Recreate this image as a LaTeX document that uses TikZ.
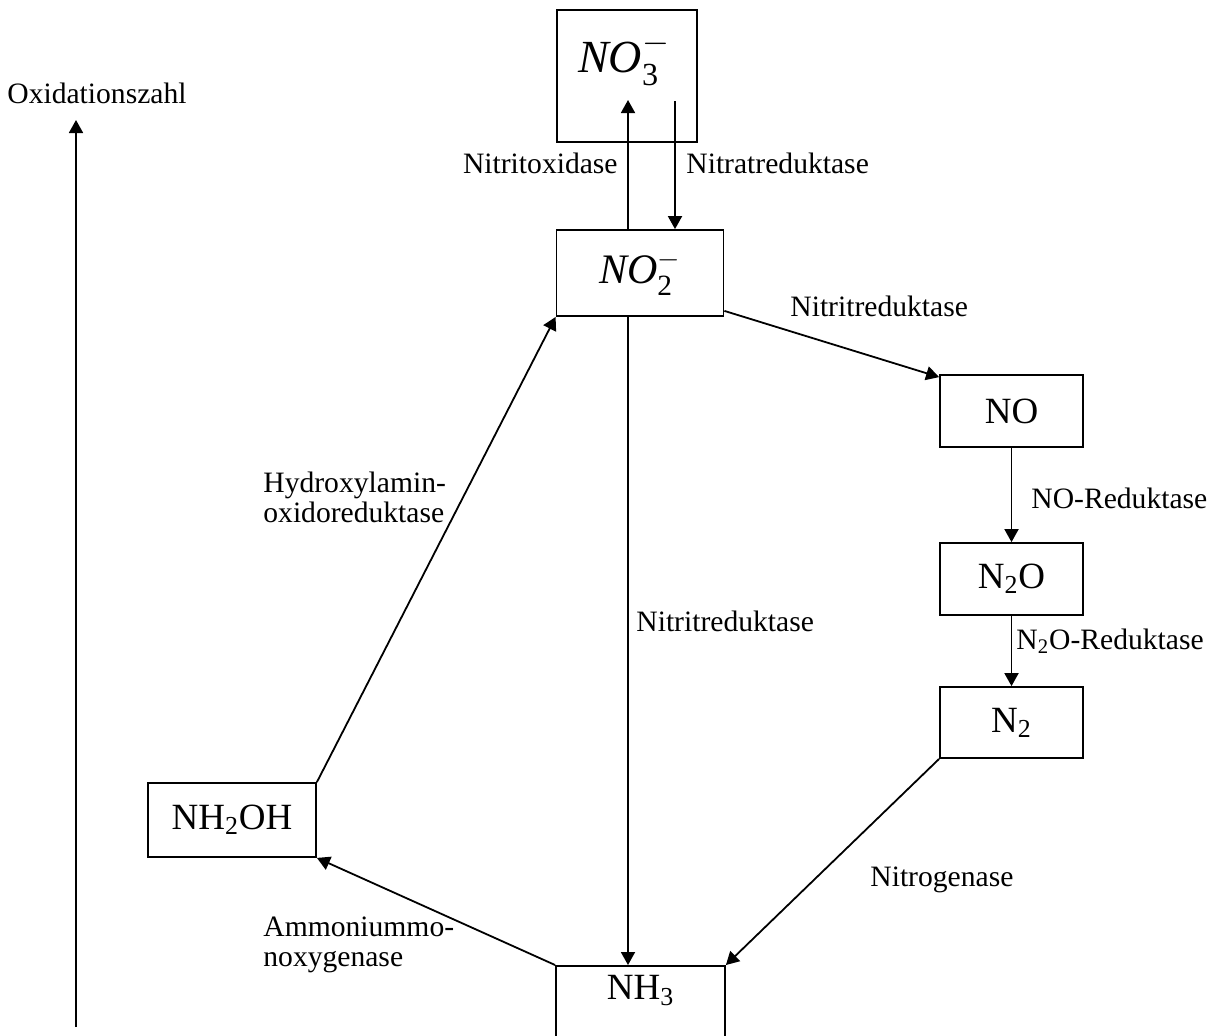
\documentclass[tikz,border=0pt]{standalone}
\usepackage{amsmath}
\usepackage{fontspec}
\setmainfont{Liberation Serif}
\usetikzlibrary{arrows.meta}
\tikzset{
  box/.style={draw, line width=0.9pt, inner sep=0pt, font=\fontsize{18.5}{20}\selectfont},
  lbl/.style={inner sep=0pt, align=left, font=\fontsize{14.8}{15}\selectfont},
  arr/.style={draw, line width=0.9pt, -{Triangle[length=6.5pt,width=7pt]}}
}
\begin{document}
\begin{tikzpicture}[x=0.5pt,y=-0.5pt]
\useasboundingbox (0,0) rectangle (1208,1035);

%Shape: Rectangles
\node (no3) at (627,76) [box, minimum width=70pt, minimum height=66pt] {};
\node (no3t) at (624,59) [inner sep=0pt, font=\fontsize{23}{24}\selectfont] {$\mathit{NO}_{\text{3}}^{-}$};
\node (no2) at (640,273) [box, minimum width=83.5pt, minimum height=43pt, font=\fontsize{21}{24}\selectfont] {$\mathit{NO}_{\text{2}}^{-}$};
\node (no) at (1011.5,411) [box, minimum width=71.5pt, minimum height=36pt] {NO};
\node (n2o) at (1011.5,579) [box, minimum width=71.5pt, minimum height=36pt] {N\textsubscript{2}O};
\node (n2) at (1011.5,722.5) [box, minimum width=71.5pt, minimum height=35.5pt] {N\textsubscript{2}};
\node (nh2oh) at (232,820) [box, minimum width=84pt, minimum height=37pt] {NH\textsubscript{2}OH};
\node (nh3) at (640.5,965) [box, anchor=north, minimum width=84.5pt, text height=17pt, text depth=30pt] {NH\textsubscript{3}};

%Points
\coordinate (up) at (628,100);
\coordinate (down) at (675,101);
\coordinate (ybot) at (76,1027);
\coordinate (ytop) at (76,120);

%Straight Lines
\draw[arr] (no2.north -| up) -- (up);
\draw[arr] (down) -- (no2.north -| down);
\draw[arr] ([yshift=3pt]no2.south east) -- ([yshift=-1.5pt]no.north west);
\draw[arr] (no) -- (n2o);
\draw[arr] (n2o) -- (n2);
\draw[arr] (n2.south west) -- (nh3.north east);
\draw[arr] (no2.south -| up) -- (nh3.north -| up);
\draw[arr] (nh3.north west) -- (nh2oh.south east);
\draw[arr] (nh2oh.north east) -- (no2.south west);
\draw[arr] (ybot) -- (ytop);

% Text Node
\node (yl) at (97,93) [lbl] {Oxidationszahl};
\node (l1) at (618,163) [lbl, anchor=east] {Nitritoxidase};
\node (l2) at (686,163) [lbl, anchor=west] {Nitratreduktase};
\node (l3) at (790,306) [lbl, anchor=west] {Nitritreduktase};
\node (l4) at (1031,498) [lbl, anchor=west] {NO-Reduktase};
\node (l5) at (1016,641) [lbl, anchor=west] {N\textsubscript{2}O-Reduktase};
\node (l6) at (870,880) [lbl, anchor=west] {Nitrogenase};
\node (l7) at (636,621) [lbl, anchor=west] {Nitritreduktase};
\node (l8) at (263,497) [lbl, anchor=west] {Hydroxylamin-\\oxidoreduktase};
\node (l9) at (263,945) [lbl, anchor=west] {Ammoniummo-\\noxygenase};
\end{tikzpicture}
\end{document}
